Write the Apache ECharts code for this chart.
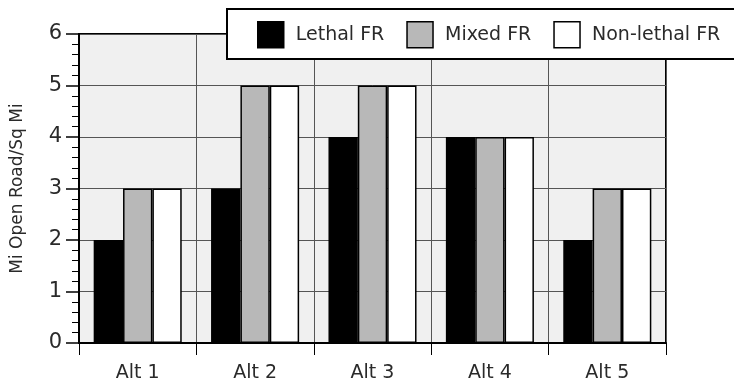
<!DOCTYPE html>
<html>
<head>
<meta charset="utf-8">
<script src="https://cdn.jsdelivr.net/npm/echarts@6/dist/echarts.min.js"></script>
<style>
  html, body { margin: 0; padding: 0; background: #ffffff; }
  #chart { width: 734px; height: 385px; }
</style>
</head>
<body>
<div id="chart"></div>
<script>
// Road density by alternative and fire-response strategy
const categories = ['Alt 1', 'Alt 2', 'Alt 3', 'Alt 4', 'Alt 5'];
const lethalFR = [2, 3, 4, 4, 2];
const mixedFR = [3, 5, 5, 4, 3];
const nonLethalFR = [3, 5, 5, 4, 3];
const seriesNames = ['Lethal FR', 'Mixed FR', 'Non-lethal FR'];
const yTicks = [0, 1, 2, 3, 4, 5, 6];

const FONT = 'DejaVu Sans';
const TEXT = '#2a2a2a';
const fills = ['#000000', '#b8b8b8', '#ffffff'];

const chart = echarts.init(document.getElementById('chart'));

function barSeries(name, data, color) {
  return {
    name: name,
    type: 'bar',
    data: data,
    barGap: '0%',
    barCategoryGap: '25%',
    itemStyle: { color: color, borderColor: '#000', borderWidth: 1.5 },
    emphasis: { disabled: true }
  };
}

chart.setOption({
  animation: false,
  textStyle: { fontFamily: FONT, color: TEXT },
  grid: {
    left: 79, right: 68, top: 34, bottom: 42,
    outerBoundsMode: 'none',
    containLabel: false,
    show: true,
    backgroundColor: '#f0f0f0',
    borderColor: '#000',
    borderWidth: 2
  },
  graphic: [{
    type: 'rect',
    z: 3,
    shape: { x: 227, y: 9, width: 530, height: 50 },
    style: { fill: '#ffffff', stroke: '#000', lineWidth: 2 }
  }],
  legend: {
    z: 4,
    left: 257,
    top: 21,
    padding: 0,
    itemWidth: 26,
    itemHeight: 26,
    itemGap: 22,
    icon: 'rect',
    data: seriesNames,
    textStyle: { fontFamily: FONT, fontSize: 19, color: TEXT, padding: [0, 0, 0, 7] },
    itemStyle: { borderColor: '#000', borderWidth: 1.5 }
  },
  xAxis: {
    type: 'category',
    data: categories,
    boundaryGap: true,
    axisLine: { lineStyle: { color: '#000', width: 2 } },
    axisTick: { show: true, length: 12, interval: 0, lineStyle: { color: '#000', width: 1 } },
    splitLine: { show: true, interval: 0, lineStyle: { color: '#555', width: 1 } },
    axisLabel: { fontFamily: FONT, fontSize: 19, color: TEXT, margin: 21 }
  },
  yAxis: {
    type: 'value',
    min: yTicks[0],
    max: yTicks[yTicks.length - 1],
    interval: 1,
    name: 'Mi Open Road/Sq Mi',
    nameLocation: 'middle',
    nameGap: 53,
    nameTextStyle: { fontFamily: FONT, fontSize: 17, color: TEXT },
    axisLine: { show: true, lineStyle: { color: '#000', width: 2 } },
    axisTick: { show: true, length: 13, lineStyle: { color: '#000', width: 1.5 } },
    minorTick: { show: true, splitNumber: 5, length: 7, lineStyle: { color: '#000', width: 1 } },
    splitLine: { show: true, lineStyle: { color: '#555', width: 1 } },
    axisLabel: { fontFamily: FONT, fontSize: 21, color: TEXT, margin: 17 }
  },
  series: [
    barSeries(seriesNames[0], lethalFR, fills[0]),
    barSeries(seriesNames[1], mixedFR, fills[1]),
    barSeries(seriesNames[2], nonLethalFR, fills[2])
  ]
});
</script>
</body>
</html>
